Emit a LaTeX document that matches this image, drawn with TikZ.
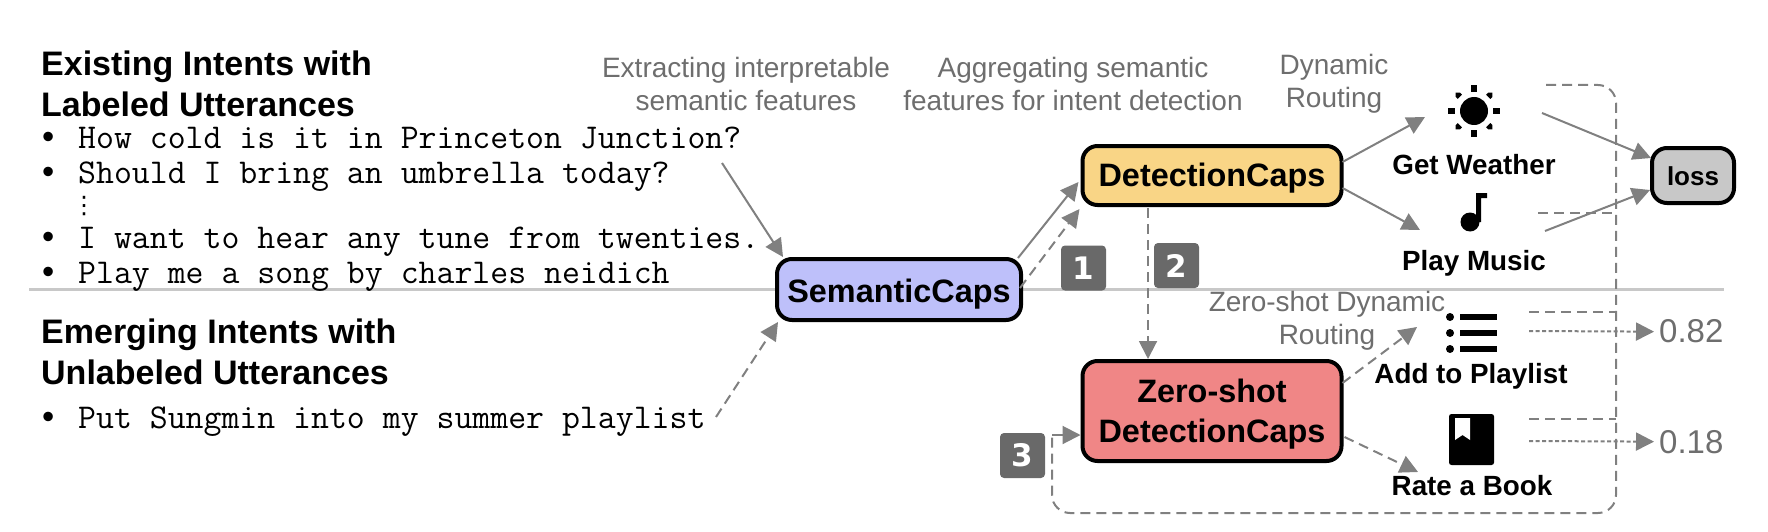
\documentclass[tikz,border=0pt]{standalone}
\usepackage{amsmath}
\usepackage{fontspec}
\setmainfont{Liberation Sans}
\newfontfamily\badgefont{DejaVu Sans}
\usepackage{tikz}
\usetikzlibrary{arrows.meta}
\usetikzlibrary{calc}

\definecolor{flowgray}{HTML}{808080}
\definecolor{notegray}{HTML}{6E6E6E}
\definecolor{badgegray}{HTML}{696969}
\definecolor{splitgray}{HTML}{C8C8C8}
\definecolor{semanticblue}{HTML}{BEC0FA}
\definecolor{detectorange}{HTML}{F9D586}
\definecolor{zerored}{HTML}{F08686}

\tikzset{
    capsbox/.style={draw=black, line width=4pt, rounded corners=15pt, inner sep=0pt, outer sep=0pt, align=center, text depth=0pt, font=\fontsize{32.4}{40}\selectfont\bfseries},
    heading/.style={anchor=base west, inner sep=0pt, align=left, font=\fontsize{34}{41}\selectfont\bfseries},
    utterance/.style={anchor=base west, inner sep=0pt, font=\fontsize{34.8}{40}\selectfont\ttfamily},
    note/.style={inner sep=0pt, align=center, text=notegray, font=\fontsize{28}{33}\selectfont},
    intent/.style={anchor=base, inner sep=0pt, font=\fontsize{27.8}{33}\selectfont\bfseries},
    score/.style={anchor=base west, inner sep=0pt, text=notegray, font=\fontsize{33}{40}\selectfont},
    badge/.style={fill=badgegray, rounded corners=4pt, inner sep=0pt, minimum width=45pt, minimum height=45pt, text=white, font=\fontsize{31}{31}\selectfont\badgefont\bfseries},
    solidflow/.style={draw=flowgray, line width=2pt, -{Triangle[length=18pt,width=18pt]}},
    dashflow/.style={solidflow, dash pattern=on 10pt off 6pt},
    shortflow/.style={solidflow, dash pattern=on 4pt off 2.5pt},
    dashline/.style={draw=flowgray, line width=2pt, dash pattern=on 10pt off 6pt},
}

\begin{document}
\begin{tikzpicture}[x=1pt, y=-1pt]
    \useasboundingbox (0,0) rectangle (1768,532);

    % split between seen and unseen
    \coordinate (splitleft) at (29,289.5);
    \coordinate (splitright) at (1724,289.5);
    \draw[splitgray, line width=3pt] (splitleft) -- (splitright);

    % left column
    \node[heading] (existing) at (41,117) {Existing Intents with\\Labeled Utterances};
    \node[heading] (emerging) at (41,384) {Emerging Intents with\\Unlabeled Utterances};
    \foreach \n/\y/\utt in {a/148/How cold is it in Princeton Junction?,b/183/Should I bring an umbrella today?,c/248/I want to hear any tune from twenties.,d/283/Play me a song by charles neidich,e/428/Put Sungmin into my summer playlist}
        \node[utterance] (utt\n) at (42,\y) {\makebox[36pt][l]{\rmfamily\textbullet}\utt};
    \node[inner sep=0pt, font=\fontsize{24}{24}\selectfont\badgefont] (uttdots) at (84,206) {⋮};

    % notes above the arrows
    \node[note] (noteextract) at (746,84) {Extracting interpretable\\semantic features};
    \node[note] (noteaggregate) at (1073,84) {Aggregating semantic\\features for intent detection};
    \node[note] (notedynamic) at (1334,84) {Dynamic\\Routing};
    \node[note] (notezero) at (1327,321) {Zero-shot Dynamic\\Routing};

    % capsule boxes
    \node[capsbox, fill=semanticblue, minimum width=244pt, minimum height=61pt, text height=25pt] (semantic) at (899,289.5) {SemanticCaps};
    \node[capsbox, fill=detectorange, minimum width=259pt, minimum height=59pt, text height=21pt] (detection) at (1212,175.5) {DetectionCaps};
    \node[capsbox, fill=zerored, minimum width=259pt, minimum height=100pt, text height=62pt] (zeroshot) at (1212,411) {Zero-shot\\DetectionCaps};
    \node[capsbox, fill=splitgray, minimum width=82pt, minimum height=55pt, text height=19pt, font=\fontsize{26}{30}\selectfont\bfseries] (loss) at (1693,175.5) {loss};

    % icons
    \coordinate (sun) at (1474,111);
    \fill (sun) circle (14);
    \foreach \a in {0,90,180,270}
        \fill[rotate around={\a:(sun)}] ($(sun)+(19,-3)$) rectangle ($(sun)+(26,3)$);
    \foreach \a in {45,135,225,315}
        \fill[rotate around={\a:(sun)}] ($(sun)+(20,-3)$) -- ($(sun)+(23,-3)$) -- ($(sun)+(26,0)$) -- ($(sun)+(23,3)$) -- ($(sun)+(20,3)$) -- cycle;
    \coordinate (music) at (1474,213);
    \fill ($(music)+(2,-20)$) -- ($(music)+(13,-20)$) -- ($(music)+(13,-15)$) -- ($(music)+(7,-15)$) -- ($(music)+(7,9)$) -- ($(music)+(2,9)$) -- cycle;
    \fill ($(music)+(-4,9)$) circle (9.5);
    \coordinate (playlist) at (1473,333);
    \foreach \y in {-16,0,16} {
        \fill ($(playlist)+(-23,\y)$) circle (4);
        \fill ($(playlist)+(-13,\y-2.7)$) rectangle ($(playlist)+(24,\y+2.7)$);
    }
    \coordinate (book) at (1472,440);
    \fill[rounded corners=2.5pt] ($(book)+(-23,-26)$) rectangle ($(book)+(22,25)$);
    \fill[white] ($(book)+(-17,-22)$) -- ($(book)+(-2,-22)$) -- ($(book)+(-2,0)$) -- ($(book)+(-9.5,-5)$) -- ($(book)+(-17,0)$) -- cycle;

    % intent labels
    \node[intent] (weather) at (1474,174) {Get Weather};
    \node[intent] (play) at (1474,270) {Play Music};
    \node[intent] (addlist) at (1471,383) {Add to Playlist};
    \node[intent] (rate) at (1472,495) {Rate a Book};

    % badges
    \node[badge] (one) at (1083.5,268) {1};
    \node[badge] (two) at (1176.5,265.5) {2};
    \node[badge] (three) at (1022.5,455.5) {3};

    % scores
    \node[score] (highscore) at (1659,342) {0.82};
    \node[score] (lowscore) at (1659,453) {0.18};

    % flow from utterances to the capsules
    \draw[solidflow] ($(utta.base west)+(680,15)$) -- ($(semantic.north west)+(6,-2)$);
    \draw[dashflow] ($(utte.base west)+(674,-11)$) -- ($(semantic.south west)+(1,2)$);
    \draw[solidflow] ($(semantic.north east)+(-3,-1)$) -- ($(detection.west)+(-4,6.5)$);
    \draw[dashflow] ($(semantic.east)+(-1,-1.5)$) -- ($(detection.south west)+(-3,4)$);
    \draw[dashflow] ($(detection.south)+(-64,3)$) -- ($(zeroshot.north)+(-64,-2)$);

    % routing to the intents
    \draw[solidflow] ($(detection.east)+(1,-13.5)$) -- ($(sun)+(-49,6)$);
    \draw[solidflow] ($(detection.east)+(1,12.5)$) -- ($(music)+(-54,17)$);
    \draw[solidflow] ($(sun)+(68,2)$) -- ($(loss.west)+(-1,-17.5)$);
    \draw[solidflow] ($(music)+(71,18)$) -- ($(loss.west)+(-2,14.5)$);
    \draw[dashflow] ($(zeroshot.east)+(1,-28)$) -- ($(playlist)+(-56,-6)$);
    \draw[dashflow] ($(zeroshot.east)+(3,26)$) -- ($(book)+(-54,32)$);

    % dashed routes of the three steps
    \coordinate (routeright) at (1616,85);
    \coordinate (routebottom) at (1616,513);
    \coordinate (routeleft) at (1052,513);
    \coordinate (routetop) at (1052,435);
    \draw[dashline, rounded corners=18pt] ($(sun)+(72,-26)$) -- (routeright) -- (routebottom) -- (routeleft) -- (routetop);
    \draw[solidflow] (routetop) -- ($(zeroshot.west |- routetop)+(-2,0)$);
    \foreach \src/\dx/\dy in {music/64/0,playlist/56/-21,book/57/-21}
        \draw[dashline] ($(\src)+(\dx,\dy)$) -- (routebottom |- {$(\src)+(0,\dy)$});

    % scores
    \draw[shortflow] ($(playlist)+(56,-2)$) -- ($(highscore.west)+(-5,1)$);
    \draw[shortflow] ($(book)+(57,1)$) -- ($(lowscore.west)+(-5,0)$);
\end{tikzpicture}
\end{document}
